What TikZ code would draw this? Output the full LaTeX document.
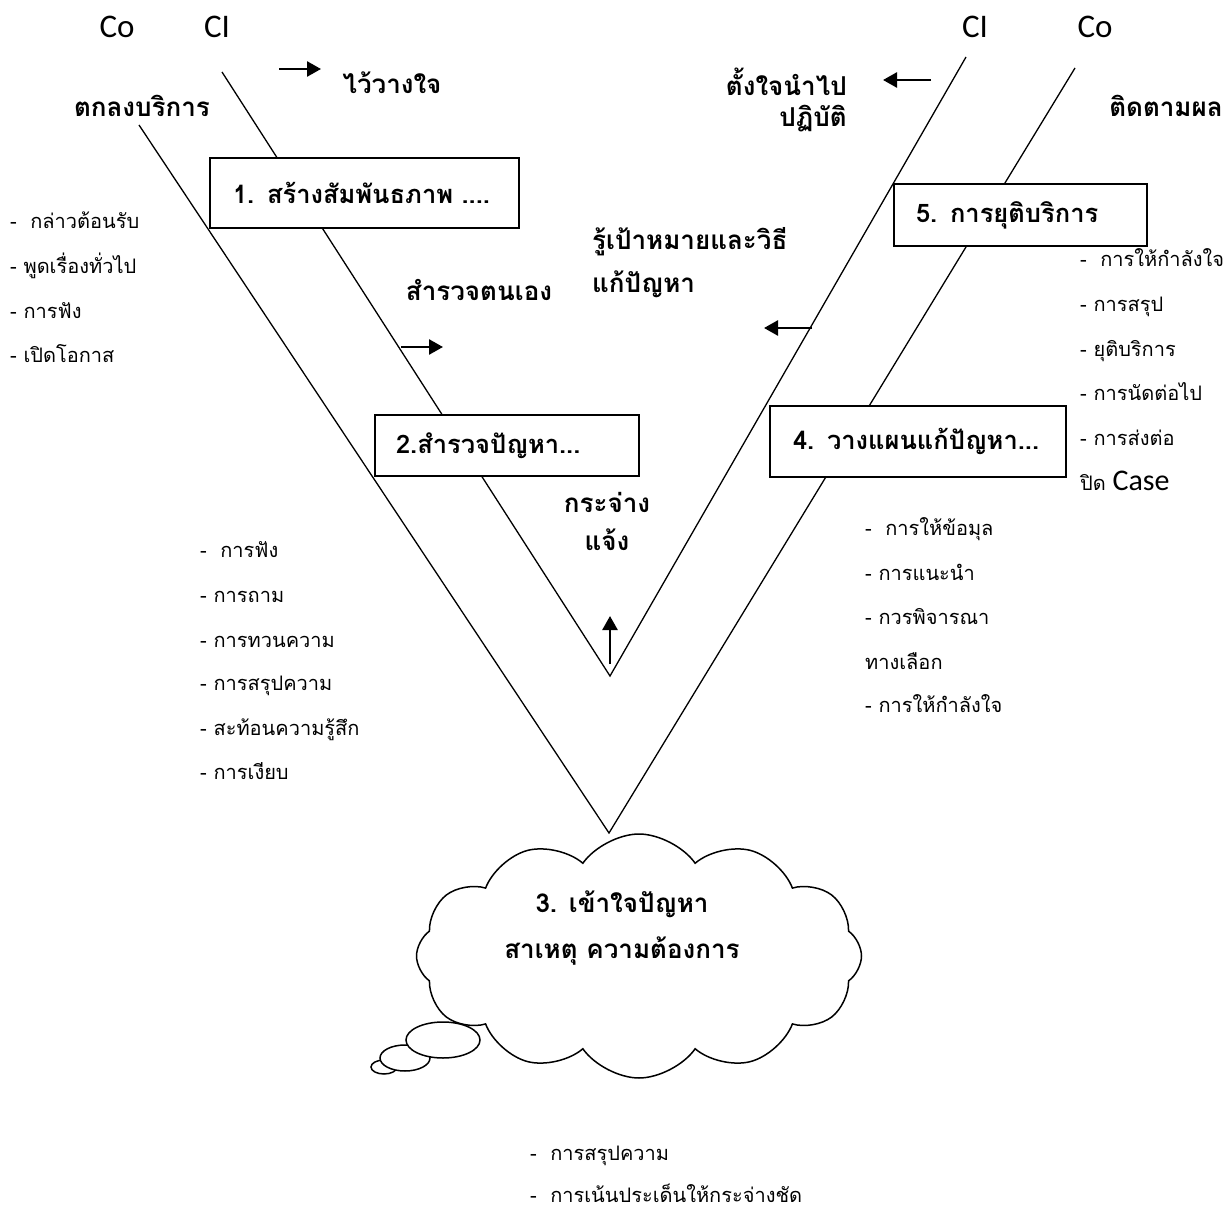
\documentclass[tikz,border=0pt]{standalone}
\usepackage{fontspec}
\setmainfont[Script=Thai]{Loma}
\newfontfamily\latinfont{Carlito}
\usetikzlibrary{arrows.meta,shapes.symbols}

\begin{document}
\begin{tikzpicture}[x=1pt,y=-1pt,
    vline/.style={line width=1.3pt},
    stage/.style={draw, line width=2pt, fill=white, anchor=north west, align=left,
      inner ysep=0pt, font=\fontsize{25.5}{30}\selectfont\bfseries},
    lbl/.style={font=\fontsize{26}{30}\selectfont\bfseries, inner sep=0pt},
    item/.style={font=\fontsize{20}{24}\selectfont, anchor=base west, inner sep=0pt},
    who/.style={font=\latinfont\fontsize{33}{38}\selectfont, anchor=base, inner sep=0pt},
    arr/.style={line width=2.6pt, -{Triangle[length=14pt,width=15pt]}},
    bubble/.style={draw, line width=1.5pt, fill=white}]
  \useasboundingbox (0,0) rectangle (1224,1209);

  % the two V's
  \coordinate (CoL) at (139,125);
  \coordinate (ClL) at (222,72);
  \coordinate (Bo) at (609,833);
  \coordinate (Bi) at (610,676);
  \coordinate (ClR) at (966,57);
  \coordinate (CoR) at (1075,68);

  \draw[vline] (CoL) -- (Bo) -- (CoR);
  \draw[vline] (ClL) -- (Bi) -- (ClR);

  \node[who] (coL) at (117,38) {Co};
  \node[who] (clL) at (217,38) {CI};
  \node[who] (clR) at (975,38) {CI};
  \node[who] (coR) at (1095,38) {Co};

  % arrows
  \coordinate (A1) at (279,69);
  \coordinate (A1h) at (321,69);
  \coordinate (A2) at (401,347);
  \coordinate (A2h) at (443,347);
  \coordinate (A3) at (610,664);
  \coordinate (A3h) at (610,616);
  \coordinate (A4) at (812,328);
  \coordinate (A4h) at (764,328);
  \coordinate (A5) at (931,80);
  \coordinate (A5h) at (883,80);

  \draw[arr] (A1) -- (A1h);
  \draw[arr] (A2) -- (A2h);
  \draw[arr] (A3) -- (A3h);
  \draw[arr] (A4) -- (A4h);
  \draw[arr] (A5) -- (A5h);

  % stages
  \node[stage, inner xsep=23pt, text width=263pt, minimum height=70pt] (s1) at (209,157) {1. สร้างสัมพันธภาพ ....};
  \node[stage, inner xsep=21pt, text width=222pt, minimum height=61pt] (s2) at (374,414) {2.สำรวจปัญหา...};
  \node[stage, inner xsep=23pt, text width=250pt, minimum height=71pt] (s4) at (769,405) {4. วางแผนแก้ปัญหา...};
  \node[stage, inner xsep=22pt, text width=209pt, minimum height=62pt] (s5) at (893,183) {5. การยุติบริการ};

  % cloud with its bubbles
  \draw[bubble] (384,1067) ellipse [x radius=13, y radius=7];
  \draw[bubble] (405,1058) ellipse [x radius=25, y radius=13];
  \draw[bubble] (443,1040) ellipse [x radius=37, y radius=18];
  \node[cloud, cloud puffs=12, cloud puff arc=110, aspect=2.2, bubble,
    minimum width=445pt, minimum height=244pt] (s3) at (639,956) {};
  \node[lbl, align=center, font=\fontsize{26}{46}\selectfont\bfseries, anchor=base] (s3t) at (622,958) {3. เข้าใจปัญหา\\สาเหตุ ความต้องการ};

  % bold labels
  \node[lbl, anchor=base] (t1) at (142,117) {ตกลงบริการ};
  \node[lbl, anchor=base] (t2) at (392,94) {ไว้วางใจ};
  \node[lbl, anchor=base] (t3) at (479,300) {สำรวจตนเอง};
  \node[lbl, anchor=base west] (t4a) at (592,250) {รู้เป้าหมายและวิธี};
  \node[lbl, anchor=base west] (t4b) at (592,293) {แก้ปัญหา};
  \node[lbl, anchor=base] (t5a) at (607,512) {กระจ่าง};
  \node[lbl, anchor=base] (t5b) at (607,550) {แจ้ง};
  \node[lbl, anchor=base east] (t6a) at (847,96) {ตั้งใจนำไป};
  \node[lbl, anchor=base east] (t6b) at (847,127) {ปฏิบัติ};
  \node[lbl, anchor=base] (t7) at (1166,117) {ติดตามผล};

  % lists
  \node[item] (l1a) at (10,229) {-\ \ กล่าวต้อนรับ};
  \node[item] (l1b) at (10,273) {- พูดเรื่องทั่วไป};
  \node[item] (l1c) at (10,318) {- การฟัง};
  \node[item] (l1d) at (10,362) {- เปิดโอกาส};

  \node[item] (l2a) at (200,557) {-\ \ การฟัง};
  \node[item] (l2b) at (200,602) {- การถาม};
  \node[item] (l2c) at (200,647) {- การทวนความ};
  \node[item] (l2d) at (200,690) {- การสรุปความ};
  \node[item] (l2e) at (200,735) {- สะท้อนความรู้สึก};
  \node[item] (l2f) at (200,779) {- การเงียบ};

  \node[item] (l5a) at (1080,267) {-\ \ การให้กำลังใจ};
  \node[item] (l5b) at (1080,311) {- การสรุป};
  \node[item] (l5c) at (1080,356) {- ยุติบริการ};
  \node[item] (l5d) at (1080,400) {- การนัดต่อไป};
  \node[item] (l5e) at (1080,445) {- การส่งต่อ};
  \node[item] (l5f) at (1080,490) {ปิด {\latinfont\fontsize{30}{34}\selectfont Case}};

  \node[item] (l4a) at (865,535) {-\ \ การให้ข้อมุล};
  \node[item] (l4b) at (865,580) {- การแนะนำ};
  \node[item] (l4c) at (865,624) {- กวรพิจารณา};
  \node[item] (l4d) at (865,669) {ทางเลือก};
  \node[item] (l4e) at (865,712) {- การให้กำลังใจ};

  \node[item] (l3a) at (530,1160) {-\ \ การสรุปความ};
  \node[item] (l3b) at (530,1202) {-\ \ การเน้นประเด็นให้กระจ่างชัด};
\end{tikzpicture}
\end{document}
